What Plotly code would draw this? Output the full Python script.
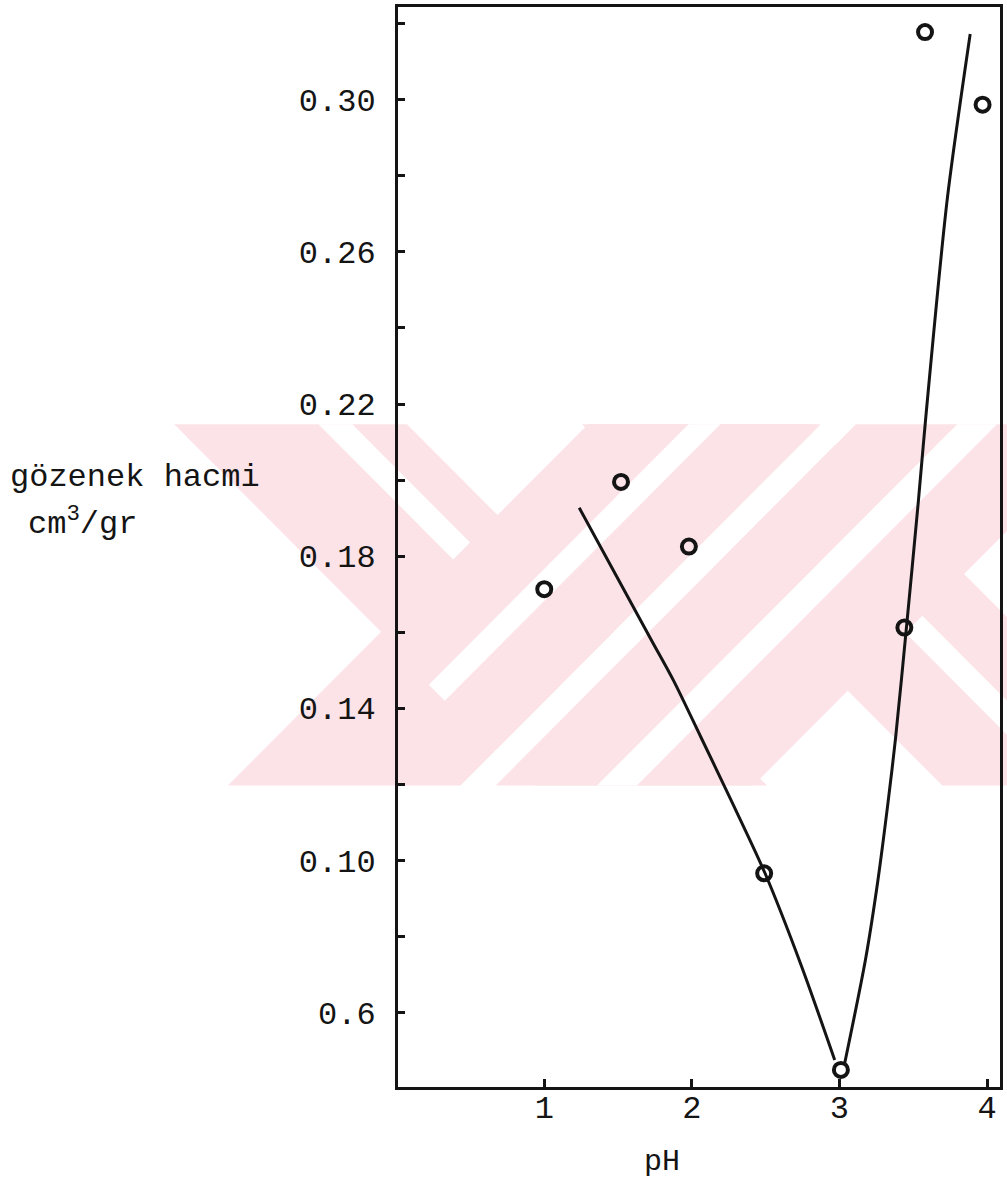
import plotly.graph_objects as go

# ---------------- data ----------------
ph_points = [1.00, 1.52, 1.98, 2.49, 3.01, 3.44, 3.58, 3.97]
volume_points = [0.1713, 0.1995, 0.1825, 0.0966, 0.0449, 0.1612, 0.3178, 0.2987]

curve_left_ph = [1.237, 1.50, 1.729, 1.877, 2.060, 2.260, 2.496, 2.740, 2.968]
curve_left_volume = [0.1927, 0.1740, 0.1577, 0.1472, 0.1325, 0.1163, 0.0966, 0.0725, 0.0475]

curve_right_ph = [3.036, 3.177, 3.258, 3.326, 3.380, 3.454, 3.535, 3.589, 3.731, 3.886]
curve_right_volume = [0.0467, 0.0740, 0.0940, 0.1142, 0.1320, 0.1612, 0.1945, 0.2181, 0.2740, 0.3173]

x_tick_values = [1, 2, 3, 4]
x_tick_labels = ["1", "2", "3", "4"]
y_tick_values = [0.06, 0.10, 0.14, 0.18, 0.22, 0.26, 0.30]
y_tick_labels = ["0.6", "0.10", "0.14", "0.18", "0.22", "0.26", "0.30"]
y_minor_step = 0.02

x_title = "pH"
y_title_line1 = "gözenek hacmi"
y_title_line2 = "cm<sup>3</sup>/gr"

# ---------------- layout constants ----------------
FIG_W, FIG_H = 1007, 1179
# plot-area edges in page pixels
PL, PR, PT, PB = 398, 1003, 5, 1087
INK = "#141414"
FONT = "Liberation Mono, Courier New, monospace"
PINK = "#fbe3e8"


def to_paper(pt):
    x, y = pt
    return (x - PL) / (PR - PL), (PB - y) / (PB - PT)


def path(points):
    pts = [to_paper(p) for p in points]
    return "M " + " L ".join(f"{x:.5f},{y:.5f}" for x, y in pts) + " Z"


# background watermark (decoration) built from diagonal bands, page pixels
WT, WB = 423, 785


def back_band(a, b):   # "\" band, y - x between a and b
    return [(WT - b, WT), (WT - a, WT), (WB - a, WB), (WB - b, WB)]


def fwd_band(a, b):    # "/" band, x + y between a and b
    return [(a - WT, WT), (b - WT, WT), (b - WB, WB), (a - WB, WB)]


pink_polys = [back_band(16, 250), fwd_band(1012, 1246),
              back_band(-394, -160), fwd_band(1281, 1540)]
white_polys = [
    [(318, 423), (352, 423), (470.5, 541.5), (453.5, 558.5)],
    [(690, 423), (722, 423), (445, 700), (429, 684)],
    fwd_band(1246, 1281),
    fwd_band(1383, 1423),
    [(908, 632), (925, 615), (1095, 785), (1061, 785)],
]

shapes = []
for poly in pink_polys:
    shapes.append(dict(type="path", xref="paper", yref="paper", path=path(poly),
                       fillcolor=PINK, line=dict(width=0), layer="below"))
for poly in white_polys:
    shapes.append(dict(type="path", xref="paper", yref="paper", path=path(poly),
                       fillcolor="white", line=dict(width=0), layer="below"))

fig = go.Figure()

fig.add_trace(go.Scatter(x=curve_left_ph, y=curve_left_volume, mode="lines",
                         line=dict(color=INK, width=3, shape="spline", smoothing=0.8),
                         hoverinfo="skip", showlegend=False))
fig.add_trace(go.Scatter(x=curve_right_ph, y=curve_right_volume, mode="lines",
                         line=dict(color=INK, width=3, shape="spline", smoothing=0.8),
                         hoverinfo="skip", showlegend=False))
fig.add_trace(go.Scatter(x=ph_points, y=volume_points, mode="markers",
                         marker=dict(symbol="circle-open", size=14, color=INK,
                                     line=dict(color=INK, width=4)),
                         showlegend=False))

# axis ranges matched to the page-pixel frame
x0 = 0.009
x1 = 4.088
y0 = 0.0404
y1 = 0.3244

fig.update_xaxes(range=[x0, x1], tickmode="array", tickvals=x_tick_values,
                 ticktext=x_tick_labels, ticks="inside", ticklen=8, tickwidth=3,
                 tickcolor=INK, showline=True, linewidth=3, linecolor=INK,
                 mirror=True, showgrid=False, zeroline=False,
                 tickfont=dict(family=FONT, size=32, color=INK),
                 ticklabelstandoff=-10)
fig.update_yaxes(range=[y0, y1], tickmode="array", tickvals=y_tick_values,
                 ticktext=y_tick_labels, ticks="inside", ticklen=7, tickwidth=3,
                 tickcolor=INK, showline=True, linewidth=3, linecolor=INK,
                 mirror=True, showgrid=False, zeroline=False,
                 tickfont=dict(family=FONT, size=32, color=INK),
                 ticklabelstandoff=13,
                 minor=dict(tick0=y_tick_values[0], dtick=y_minor_step, ticks="inside",
                            ticklen=7, tickwidth=3, tickcolor=INK, showgrid=False))


def annot(text, page_xy, anchor, size):
    px, py = to_paper(page_xy)
    return dict(text=text, xref="paper", yref="paper", x=px, y=py,
                xanchor=anchor, yanchor="middle", showarrow=False,
                font=dict(family=FONT, size=size, color=INK))


annotations = [
    annot(x_title, (663, 1162), "center", 30),
    annot(y_title_line1, (6, 476), "left", 32),
    annot(y_title_line2, (24, 521), "left", 32),
]

fig.update_layout(
    width=FIG_W, height=FIG_H, autosize=False,
    margin=dict(l=PL, r=FIG_W - PR, t=PT, b=FIG_H - PB, pad=0),
    paper_bgcolor="white", plot_bgcolor="rgba(0,0,0,0)",
    shapes=shapes, annotations=annotations, showlegend=False,
)

fig.write_html(
    "out.html",
    config={"displayModeBar": False},
    post_script="document.body.style.margin='0';document.body.style.overflow='hidden';",
)
